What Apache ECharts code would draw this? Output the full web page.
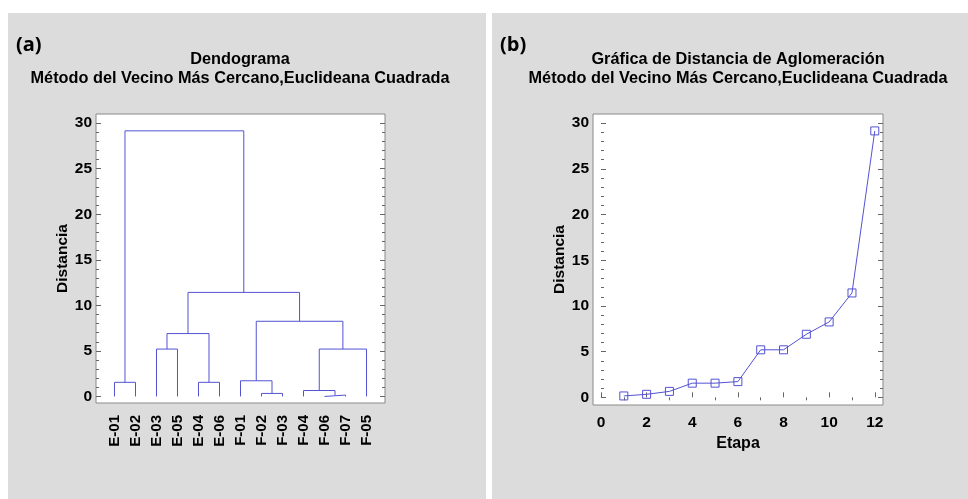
<!DOCTYPE html>
<html>
<head>
<meta charset="utf-8">
<script src="https://cdn.jsdelivr.net/npm/echarts@6/dist/echarts.min.js"></script>
<style>
html,body{margin:0;padding:0;background:#fff;}
#c{width:968px;height:499px;}
</style>
</head>
<body>
<div id="c"></div>
<script>
// ---- data ----
const leaves = ['E-01','E-02','E-03','E-05','E-04','E-06','F-01','F-02','F-03','F-04','F-06','F-07','F-05'];
const stages = [1,2,3,4,5,6,7,8,9,10,11,12];
const stageDist = [0.15, 0.33, 0.65, 1.55, 1.55, 1.72, 5.2, 5.2, 6.9, 8.25, 11.42, 29.15];
// merge partners per stage: leaf name or earlier stage number
const mergeLeft  = ['F-06','F-02','F-04','E-01','E-04','F-01','E-03',3,7,6,9,4];
const mergeRight = ['F-07','F-03',1,'E-02','E-06',2,'E-05','F-05',5,8,10,11];
const yTicksMajor = [0,5,10,15,20,25,30];
const yTicksMinor = [0,1,2,3,4,5,6,7,8,9,10,11,12,13,14,15,16,17,18,19,20,21,22,23,24,25,26,27,28,29,30];
const xTicksMajor = [0,2,4,6,8,10,12];
const xTicksMinor = [1,3,5,7,9,11];
const titleA = 'Dendograma\nMétodo del Vecino Más Cercano,Euclideana Cuadrada';
const titleB = 'Gráfica de Distancia de Aglomeración\nMétodo del Vecino Más Cercano,Euclideana Cuadrada';

// ---- build ----
const BLUE = '#5353d3';
const FONT = 'Liberation Sans';
const nodes = {};
leaves.forEach((n,i)=>{ nodes[n] = {x:i+1, h:0}; });
const dendroSeries = [];
stages.forEach((s,k)=>{
  const a = nodes[mergeLeft[k]], b = nodes[mergeRight[k]];
  const h = stageDist[k];
  nodes[s] = {x:(a.x+b.x)/2, h:h};
  dendroSeries.push({
    type:'line', xAxisIndex:0, yAxisIndex:0, symbol:'none', silent:true,
    lineStyle:{color:BLUE, width:1},
    data:[[a.x,a.h],[a.x,h],[b.x,h],[b.x,b.h]]
  });
});

function yAxes(grid, min, max){
  const base = {type:'value', gridIndex:grid, min:min, max:max, splitLine:{show:false}, axisLine:{show:false}};
  return [
    Object.assign({}, base, {position:'left',
      axisTick:{show:true, inside:true, length:5, customValues:yTicksMajor, lineStyle:{color:'#666'}},
      axisLabel:{customValues:yTicksMajor, margin:4, color:'#000', fontSize:15.5, fontWeight:'bold', fontFamily:FONT},
      name:'Distancia', nameLocation:'middle', nameGap:22,
      nameTextStyle:{color:'#000', fontSize:15.5, fontWeight:'bold', fontFamily:FONT}}),
    Object.assign({}, base, {position:'left',
      axisTick:{show:true, inside:true, length:3, customValues:yTicksMinor, lineStyle:{color:'#666'}},
      axisLabel:{show:false}}),
    Object.assign({}, base, {position:'right',
      axisTick:{show:true, inside:true, length:5, customValues:yTicksMajor, lineStyle:{color:'#666'}},
      axisLabel:{show:false}}),
    Object.assign({}, base, {position:'right',
      axisTick:{show:true, inside:true, length:3, customValues:yTicksMinor, lineStyle:{color:'#666'}},
      axisLabel:{show:false}})
  ];
}

const option = {
  animation:false,
  backgroundColor:'#fff',
  graphic:[
    {type:'rect', shape:{x:8,y:13,width:478,height:486}, style:{fill:'#dcdcdc'}, z:-10, silent:true},
    {type:'rect', shape:{x:492,y:13,width:476,height:486}, style:{fill:'#dcdcdc'}, z:-10, silent:true},
    {type:'text', left:16, top:35, style:{text:'(a)', font:'bold 20px "Open Sans", sans-serif', fill:'#000'}},
    {type:'text', left:500, top:35, style:{text:'(b)', font:'bold 20px "Open Sans", sans-serif', fill:'#000'}}
  ],
  title:[
    {text:titleA, left:240, top:50, textAlign:'center', padding:0,
     textStyle:{fontSize:16.3, fontWeight:'bold', fontFamily:FONT, color:'#000', lineHeight:19}},
    {text:titleB, left:738, top:50, textAlign:'center', padding:0,
     textStyle:{fontSize:16.3, fontWeight:'bold', fontFamily:FONT, color:'#000', lineHeight:19}}
  ],
  grid:[
    {left:96, top:114, width:289, height:289, show:true, backgroundColor:'#fff', borderColor:'#8a8a8a', borderWidth:1},
    {left:593, top:114, width:290, height:291, show:true, backgroundColor:'#fff', borderColor:'#8a8a8a', borderWidth:1}
  ],
  xAxis:[
    {type:'value', gridIndex:0, min:0.12, max:13.88, splitLine:{show:false}, axisLine:{show:false},
     axisTick:{show:false},
     axisLabel:{customValues:leaves.map((n,i)=>i+1), rotate:90, margin:12, color:'#000', fontSize:15, fontWeight:'bold', fontFamily:FONT,
       formatter:(v)=>leaves[Math.round(v)-1]}},
    {type:'value', gridIndex:1, min:-0.35, max:12.36, splitLine:{show:false}, axisLine:{show:false},
     axisTick:{show:true, inside:true, length:5, customValues:xTicksMajor, lineStyle:{color:'#666'}},
     axisLabel:{customValues:xTicksMajor, margin:10, color:'#000', fontSize:15.5, fontWeight:'bold', fontFamily:FONT},
     name:'Etapa', nameLocation:'middle', nameGap:28,
     nameTextStyle:{color:'#000', fontSize:16, fontWeight:'bold', fontFamily:FONT}},
    {type:'value', gridIndex:1, min:-0.35, max:12.36, splitLine:{show:false}, axisLine:{show:false},
     axisTick:{show:true, inside:true, length:3, customValues:xTicksMinor, lineStyle:{color:'#666'}},
     axisLabel:{show:false}}
  ],
  yAxis: yAxes(0, -0.72, 31).concat(yAxes(1, -0.84, 31)),
  series: dendroSeries.concat([{
    type:'line', xAxisIndex:1, yAxisIndex:4, silent:true,
    data: stages.map((s,i)=>[s, stageDist[i]]),
    symbol:'rect', symbolSize:8,
    lineStyle:{color:BLUE, width:1},
    itemStyle:{color:'rgba(255,255,255,0)', borderColor:BLUE, borderWidth:1}
  }])
};
const chart = echarts.init(document.getElementById('c'), null, {renderer:'canvas'});
chart.setOption(option);
</script>
</body>
</html>
